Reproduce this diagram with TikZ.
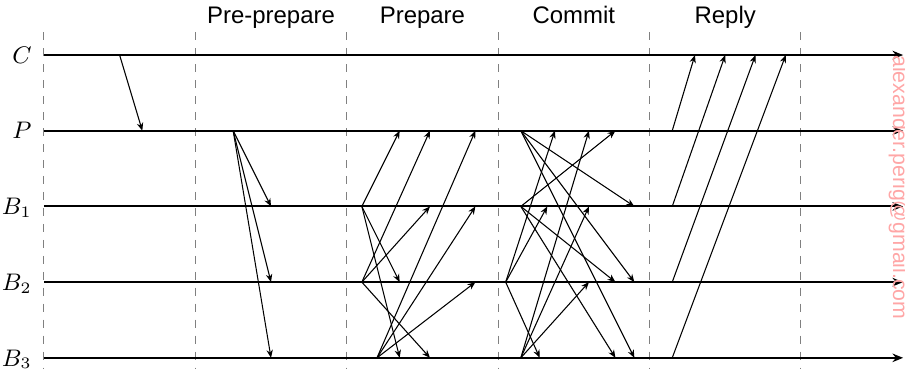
\documentclass[tikz,border=0pt]{standalone}
\usepackage{fontspec}
\usepackage{tikz}
\usetikzlibrary{arrows.meta, positioning, calc}
\newfontfamily\phasefont{Liberation Sans}
\newcommand{\sendmsg}[4]{\draw[msgline] ([xshift=#2 cm]#1) -- ([xshift=#4 cm]#3);}

\begin{document}
\begin{tikzpicture}[
            timeline/.style={thick, -{Stealth[length=4pt, width=3.2pt]}},
            msgline/.style={-{Stealth[length=3pt, width=2.4pt]}, line width=0.4pt},
            phaseline/.style={gray, dashed},
            phase/.style={font=\phasefont\small, anchor=base},
            procname/.style={font=\small, anchor=base east, yshift=-3.1pt, inner sep=1pt},
            watermark/.style={font=\phasefont\footnotesize, text=red!35, rotate=-90}
        ]
            \useasboundingbox (-0.58,-4.145) rectangle (11.375,0.727);

            \foreach \x in {0,2,...,10}
                \draw[phaseline] (\x,0.3) -- (\x,-4.2);

            \node[phase] (preprep) at (3,0.41) {Pre-prepare};
            \node[phase] (prep) at (5,0.41) {Prepare};
            \node[phase] (commit) at (7,0.41) {Commit};
            \node[phase] (reply) at (9,0.41) {Reply};

            \coordinate (C) at (0,0);
            \coordinate (P) at (0,-1);
            \coordinate (B1) at (0,-2);
            \coordinate (B2) at (0,-3);
            \coordinate (B3) at (0,-4);

            \foreach \p/\lbl in {C/C, P/P, B1/B_1, B2/B_2, B3/B_3} {
                \draw[timeline] (\p) -- ([xshift=11.35cm]\p);
                \node[procname] (lbl\p) at ([xshift=-1.2mm]\p) {$\lbl$};
            }

            % request
            \sendmsg{C}{1}{P}{1.3}
            % pre-prepare
            \foreach \dst in {B1,B2,B3} {\sendmsg{P}{2.5}{\dst}{3}}
            % prepare
            \foreach \dst in {P,B2,B3} {\sendmsg{B1}{4.2}{\dst}{4.7}}
            \foreach \dst in {P,B1,B3} {\sendmsg{B2}{4.2}{\dst}{5.1}}
            \foreach \dst in {P,B1,B2} {\sendmsg{B3}{4.4}{\dst}{5.7}}
            % commit
            \foreach \dst in {B1,B2,B3} {\sendmsg{P}{6.3}{\dst}{7.8}}
            \foreach \dst in {P,B2,B3} {\sendmsg{B1}{6.3}{\dst}{7.55}}
            \foreach \dst/\tm in {P/6.75,B1/6.65,B3/6.55} {\sendmsg{B2}{6.1}{\dst}{\tm}}
            \foreach \dst in {P,B1,B2} {\sendmsg{B3}{6.3}{\dst}{7.2}}
            % reply
            \foreach \src/\tm in {P/8.6,B1/9,B2/9.4,B3/9.8} {\sendmsg{\src}{8.3}{C}{\tm}}

            \node[watermark] (wm) at (11.29,-1.75) {alexander.perig@gmail.com};
        \end{tikzpicture}
\end{document}
